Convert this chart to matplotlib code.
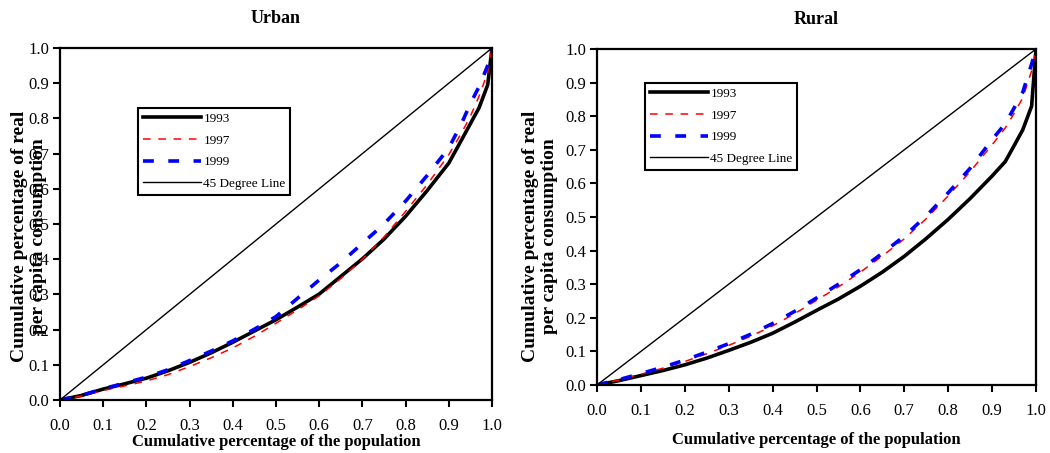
import numpy as np
import matplotlib; matplotlib.use('Agg')
import matplotlib.pyplot as plt

plt.rcParams['font.family'] = ['Liberation Serif', 'DejaVu Serif']

# Lorenz curves (share of population -> share of consumption)
pop = [0, .05, .1, .15, .2, .25, .3, .35, .4, .45, .5, .55, .6, .65, .7, .75, .8, .85, .9, .93, .95, .97, .99, 1.0]
urban_1993 = [0, .013, .031, .046, .062, .083, .107, .134, .164, .196, .228, .264, .301, .351, .401, .457, .522, .595, .673, .740, .785, .830, .895, 1.0]
urban_1997 = [0, .011, .027, .040, .054, .072, .095, .120, .148, .181, .218, .256, .296, .345, .400, .463, .536, .612, .697, .760, .806, .863, .930, 1.0]
urban_1999 = [0, .013, .032, .048, .065, .086, .112, .139, .168, .201, .237, .289, .341, .390, .445, .500, .565, .638, .716, .787, .842, .890, .950, 1.0]
rural_1993 = [0, .013, .028, .043, .060, .080, .103, .127, .154, .187, .222, .256, .294, .336, .383, .436, .493, .555, .622, .665, .712, .760, .830, 1.0]
rural_1997 = [0, .015, .032, .050, .070, .093, .118, .145, .176, .212, .252, .292, .336, .384, .435, .495, .563, .635, .715, .765, .808, .855, .935, 1.0]
rural_1999 = [0, .016, .034, .053, .074, .098, .123, .151, .183, .219, .259, .300, .343, .392, .443, .503, .572, .645, .730, .778, .824, .872, .955, 1.0]
years = ['1993', '1997', '1999']
diag = [0, 1]
ticks = np.round(np.arange(0, 1.01, 0.1), 1)

styles = {'1993': dict(color='black', lw=2.6, ls='-'),
          '1997': dict(color='red', lw=1.1, ls=(0, (5, 5))),
          '1999': dict(color='blue', lw=2.6, ls=(0, (3, 4)))}

fig = plt.figure(figsize=(10.5, 4.53), dpi=100)
W, H = 1050, 453
# axes placed in pixel terms: (left, top, right, bottom)
boxes = [(60, 48, 492, 400), (597, 49, 1036, 385)]
panels = [('Urban', [urban_1993, urban_1997, urban_1999]),
          ('Rural', [rural_1993, rural_1997, rural_1999])]
leg_pos = [(138, 108), (645, 83)]
xlab_pad = [0, 9]

for (l, t, r, b), (name, curves), (lx, ly), lp in zip(boxes, panels, leg_pos, xlab_pad):
    ax = fig.add_axes([l / W, 1 - b / H, (r - l) / W, (b - t) / H])
    handles = []
    for yr, ys in zip(years, curves):
        h, = ax.plot(pop, ys, label=yr, **styles[yr])
        handles.append(h)
    h, = ax.plot(diag, diag, color='black', lw=1.0, label='45 Degree Line')
    handles.append(h)
    ax.set_xlim(0, 1); ax.set_ylim(0, 1)
    ax.set_xticks(ticks); ax.set_yticks(ticks)
    ax.set_xticklabels([f'{v:.1f}' for v in ticks]); ax.set_yticklabels([f'{v:.1f}' for v in ticks])
    ax.tick_params(direction='out', length=5, width=1.5, labelsize=12)
    ax.tick_params(axis='x', pad=8); ax.tick_params(axis='y', pad=3)
    for s in ax.spines.values(): s.set_linewidth(1.6)
    ax.set_title(name, fontsize=13, fontweight='bold', pad=18)
    ax.set_xlabel('Cumulative percentage of the population', fontsize=12, fontweight='bold', labelpad=lp)
    leg = fig.legend(handles=handles, loc='upper left', bbox_to_anchor=(lx / W, 1 - ly / H),
                     fontsize=9.5, handlelength=4.4, handletextpad=0.2, labelspacing=0.72,
                     borderpad=0.35, borderaxespad=0, fancybox=False, framealpha=1)
    leg.get_frame().set_edgecolor('black'); leg.get_frame().set_linewidth(1.5)

# y labels sit as free text; on the urban panel it overlaps the tick labels as in the source
ylab = 'Cumulative percentage of real\nper capita consumption'
fig.text(29 / W, 1 - 236 / H, ylab, rotation=90, ha='center', va='center', fontsize=14,
         fontweight='bold', multialignment='center', linespacing=1.15)
fig.text(540 / W, 1 - 236 / H, ylab, rotation=90, ha='center', va='center', fontsize=14,
         fontweight='bold', multialignment='center', linespacing=1.15)

plt.savefig('out.png', dpi=100)
plt.close()
